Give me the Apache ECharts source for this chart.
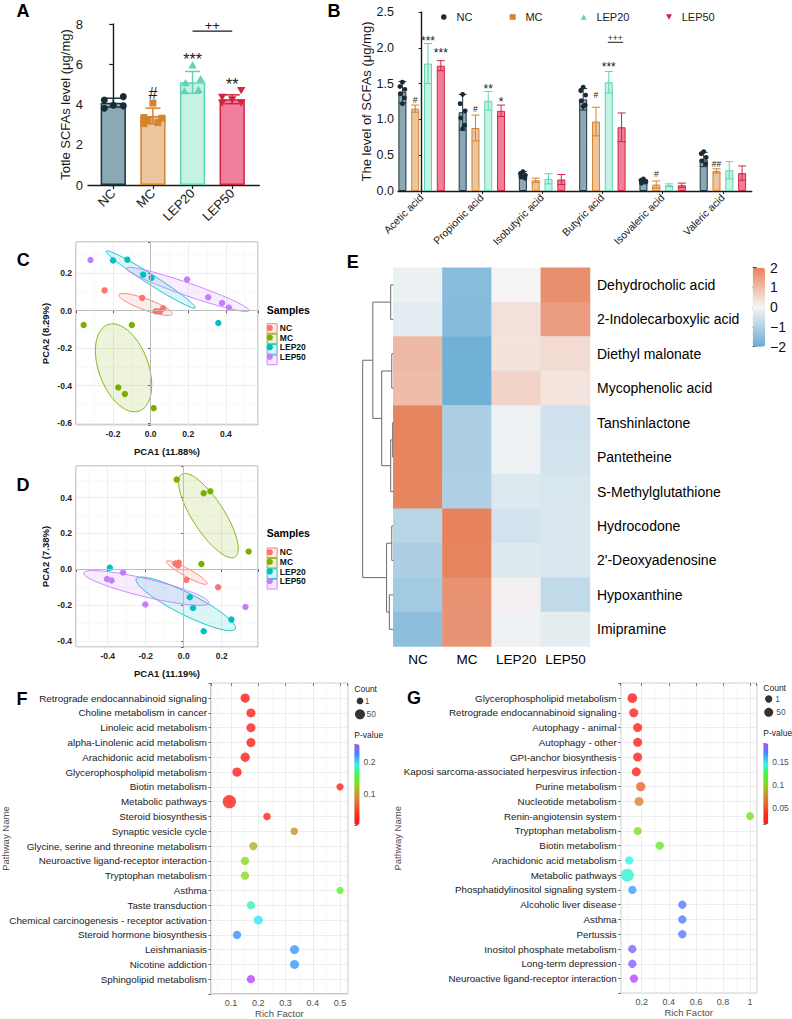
<!DOCTYPE html>
<html>
<head>
<meta charset="utf-8">
<title>SCFAs and metabolomics figure</title>
<script src="https://cdn.jsdelivr.net/npm/echarts@6.0.0/dist/echarts.min.js"></script>
<style>
html,body{margin:0;padding:0;background:#ffffff;}
#chart{width:792px;height:1019px;}
</style>
</head>
<body>
<div id="chart"></div>
<script>
// ================= DATA =================
const GROUPS = ['NC', 'MC', 'LEP20', 'LEP50'];

// ---- Panel A : total SCFAs (μg/mg)
const A_MEAN = [4.09, 3.43, 5.10, 4.26];
const A_SD = [0.22, 0.39, 0.54, 0.22];
const A_PTS_NC = [4.22, 4.39, 3.81, 3.96, 3.93];
const A_PTS_MC = [4.07, 3.35, 3.32, 3.25, 3.10, 3.05];
const A_PTS_LEP20 = [5.93, 5.25, 5.05, 4.70, 4.65];
const A_PTS_LEP50 = [4.72, 4.39, 4.27, 4.10, 4.10];
const A_SIG = ['', '#', '***', '**'];
const A_BRACKET = [2, 3, '++'];

// ---- Panel B : individual SCFAs (μg/mg)
const B_ACIDS = ['Acetic acid', 'Propionic acid', 'Isobutyric acid', 'Butyric acid', 'Isovaleric acid', 'Valeric acid'];
const B_MEAN_NC = [1.38, 1.10, 0.22, 1.28, 0.13, 0.44];
const B_MEAN_MC = [1.15, 0.88, 0.15, 0.97, 0.09, 0.28];
const B_MEAN_LEP20 = [1.78, 1.26, 0.17, 1.52, 0.08, 0.29];
const B_MEAN_LEP50 = [1.75, 1.12, 0.16, 0.89, 0.08, 0.25];
const B_SD_NC = [0.15, 0.25, 0.05, 0.15, 0.03, 0.10];
const B_SD_MC = [0.05, 0.18, 0.03, 0.20, 0.05, 0.03];
const B_SD_LEP20 = [0.28, 0.13, 0.07, 0.15, 0.02, 0.12];
const B_SD_LEP50 = [0.07, 0.08, 0.07, 0.20, 0.03, 0.10];
const B_PTS_NC = [[1.52, 1.46, 1.42, 1.36, 1.30, 1.22], [1.35, 1.22, 1.12, 1.02, 0.92, 0.87], [0.27, 0.24, 0.22, 0.20, 0.18], [1.45, 1.40, 1.34, 1.26, 1.20, 1.18], [0.17, 0.15, 0.13, 0.11], [0.55, 0.52, 0.47, 0.42, 0.38]];
const B_PTS_MC = [[1.18, 1.16, 1.14, 1.10, 1.08], [1.05, 0.95, 0.83, 0.70, 0.55], [0.18, 0.16, 0.14, 0.12], [1.25, 1.05, 1.00, 0.80, 0.72], [0.15, 0.10, 0.07, 0.05], [0.29, 0.28, 0.26, 0.25]];
const B_PTS_LEP20 = [[2.05, 1.92, 1.78, 1.62, 1.52], [1.38, 1.33, 1.26, 1.18, 1.14], [0.26, 0.20, 0.16, 0.12, 0.10], [1.68, 1.62, 1.52, 1.42, 1.28], [0.10, 0.09, 0.07], [0.47, 0.35, 0.30, 0.25, 0.20]];
const B_PTS_LEP50 = [[1.88, 1.78, 1.75, 1.72, 1.69], [1.20, 1.15, 1.12, 1.08, 1.05], [0.25, 0.20, 0.15, 0.13], [1.17, 0.98, 0.88, 0.78, 0.70], [0.11, 0.09, 0.07], [0.36, 0.30, 0.27, 0.24, 0.22]];
const B_SIG_NC = ['', '', '', '', '', ''];
const B_SIG_MC = ['#', '#', '', '#', '#', '##'];
const B_SIG_LEP20 = ['***', '**', '', '***', '', ''];
const B_SIG_LEP50 = ['***', '*', '', '', '', ''];
const B_BRACKET = [3, '+++'];

// ---- Panel C : PCA scores [PCA1, PCA2]
const C_NC = [[-0.245, 0.108], [-0.045, 0.068], [0.027, -0.003], [0.050, -0.003], [0.066, 0.013]];
const C_MC = [[-0.356, -0.077], [-0.100, -0.077], [-0.172, -0.410], [-0.137, -0.445], [0.016, -0.520]];
const C_LEP20 = [[-0.200, 0.267], [-0.124, 0.272], [-0.040, 0.192], [0.005, 0.175], [0.360, -0.066]];
const C_LEP50 = [[-0.320, 0.270], [0.194, 0.166], [0.306, 0.071], [0.380, 0.041], [0.416, 0.016]];
// confidence ellipses [centre x, centre y, semi-major, semi-minor, angle deg]
const C_ELL_NC = [-0.027, 0.033, 0.151, 0.030, -19.9];
const C_ELL_MC = [-0.144, -0.305, 0.245, 0.132, -70];
const C_ELL_LEP20 = [0.001, 0.166, 0.281, 0.026, -32.6];
const C_ELL_LEP50 = [0.197, 0.113, 0.346, 0.034, -19.1];

// ---- Panel D : PCA scores
const D_NC = [[-0.044, 0.032], [-0.030, 0.021], [-0.026, 0.036], [0.014, -0.059], [0.181, -0.100]];
const D_MC = [[-0.037, 0.501], [0.105, 0.425], [0.140, 0.436], [0.342, 0.100], [0.093, 0.030]];
const D_LEP20 = [[-0.389, 0.009], [0.032, -0.156], [0.049, -0.216], [0.251, -0.281], [0.105, -0.346]];
const D_LEP50 = [[-0.319, -0.018], [-0.404, -0.054], [-0.380, -0.063], [-0.202, -0.197], [0.325, -0.210]];
const D_ELL_NC = [0.016, -0.018, 0.124, 0.022, -30.7];
const D_ELL_MC = [0.130, 0.300, 0.270, 0.085, -59];
const D_ELL_LEP20 = [0.011, -0.193, 0.296, 0.060, -28.3];
const D_ELL_LEP50 = [-0.197, -0.104, 0.340, 0.050, -14.3];

// ---- Panel E : heatmap (z-scores), rows x [NC, MC, LEP20, LEP50]
const E_COLS = ['NC', 'MC', 'LEP20', 'LEP50'];
const E_ROWS = ['Dehydrocholic acid', '2-Indolecarboxylic acid', 'Diethyl malonate', 'Mycophenolic acid', 'Tanshinlactone', 'Pantetheine', 'S-Methylglutathione', 'Hydrocodone', "2'-Deoxyadenosine", 'Hypoxanthine', 'Imipramine'];
const E_Z = [
  [-0.15, -1.58, 0.00, 1.78],
  [-0.25, -1.60, 0.35, 1.56],
  [1.07, -1.90, 0.32, 0.45],
  [1.00, -1.90, 0.60, 0.30],
  [1.95, -1.05, -0.10, -0.55],
  [1.95, -1.05, -0.12, -0.50],
  [1.95, -1.00, -0.35, -0.42],
  [-0.89, 2.00, -0.50, -0.38],
  [-1.05, 1.98, -0.33, -0.38],
  [-1.20, 1.74, 0.08, -0.75],
  [-1.50, 1.70, -0.08, -0.22]
];
// row clustering: [node a, node b, height]; leaves 0..10, merged nodes 11+
const E_LINKAGE = [[4, 5, 0.02], [2, 3, 0.05], [7, 8, 0.05], [0, 1, 0.085], [11, 6, 0.085], [9, 10, 0.13], [13, 16, 0.22], [12, 15, 0.38], [14, 18, 0.67], [19, 17, 1.0]];

// ---- Panel F : KEGG enrichment
const F_PATHWAYS = ['Retrograde endocannabinoid signaling', 'Choline metabolism in cancer', 'Linoleic acid metabolism', 'alpha-Linolenic acid metabolism', 'Arachidonic acid metabolism', 'Glycerophospholipid metabolism', 'Biotin metabolism', 'Metabolic pathways', 'Steroid biosynthesis', 'Synaptic vesicle cycle', 'Glycine, serine and threonine metabolism', 'Neuroactive ligand-receptor interaction', 'Tryptophan metabolism', 'Asthma', 'Taste transduction', 'Chemical carcinogenesis - receptor activation', 'Steroid hormone biosynthesis', 'Leishmaniasis', 'Nicotine addiction', 'Sphingolipid metabolism'];
const F_RICH = [0.152, 0.173, 0.173, 0.173, 0.152, 0.122, 0.500, 0.094, 0.232, 0.332, 0.182, 0.151, 0.151, 0.500, 0.173, 0.200, 0.122, 0.333, 0.333, 0.173];
const F_COUNT = [38, 33, 33, 33, 38, 38, 8, 118, 12, 12, 22, 22, 22, 8, 22, 33, 22, 33, 33, 22];
const F_P = [0.010, 0.012, 0.014, 0.014, 0.015, 0.016, 0.020, 0.018, 0.025, 0.092, 0.110, 0.130, 0.130, 0.150, 0.179, 0.194, 0.221, 0.218, 0.218, 0.253];
const F_SIZE_KEYS = [1, 50];

// ---- Panel G : KEGG enrichment
const G_PATHWAYS = ['Glycerophospholipid metabolism', 'Retrograde endocannabinoid signaling', 'Autophagy - animal', 'Autophagy - other', 'GPI-anchor biosynthesis', 'Kaposi sarcoma-associated herpesvirus infection', 'Purine metabolism', 'Nucleotide metabolism', 'Renin-angiotensin system', 'Tryptophan metabolism', 'Biotin metabolism', 'Arachidonic acid metabolism', 'Metabolic pathways', 'Phosphatidylinositol signaling system', 'Alcoholic liver disease', 'Asthma', 'Pertussis', 'Inositol phosphate metabolism', 'Long-term depression', 'Neuroactive ligand-receptor interaction'];
const G_RICH = [0.131, 0.141, 0.170, 0.170, 0.170, 0.160, 0.193, 0.180, 1.000, 0.170, 0.333, 0.108, 0.094, 0.131, 0.500, 0.500, 0.500, 0.131, 0.131, 0.143];
const G_COUNT = [73, 50, 50, 50, 50, 50, 60, 50, 20, 20, 29, 29, 206, 29, 29, 29, 29, 29, 29, 29];
const G_P = [0.018, 0.020, 0.022, 0.022, 0.022, 0.024, 0.058, 0.072, 0.106, 0.108, 0.113, 0.146, 0.144, 0.165, 0.174, 0.174, 0.174, 0.183, 0.183, 0.192];
const G_SIZE_KEYS = [1, 50];

// ================= STYLE =================
const FONT = '"Liberation Sans", Arial, Helvetica, sans-serif';
const INK = '#1a1a1a';
const FILL = ['#8aa9b5', '#eac59d', '#c4f2e3', '#f17f9b'];
const EDGE = ['#1f3541', '#d4832f', '#5fd4b4', '#d0253f'];
const DOT = ['#1b2b36', '#d4832f', '#5fd4b4', '#d0253f'];
const SHAPES = ['circle', 'square', 'triangle', 'invtriangle'];
const PCA_COL = ['#F8766D', '#7CAE00', '#00BFC4', '#C77CFF'];
const HEAT_COL = ['#6aadd5', '#f5f5f5', '#e6835d'];
const P_COL = ['#ff1a1a', '#ff2a1a', '#e8642c', '#c89a2a', '#88d81a', '#3cff40', '#33f0f0', '#3a8cff', '#bb44ff'];
const A_JITTER = [[-9, 10, -9, 0, 10], [0, -9, 9, -5, 5, -9], [0, 8, -7, 6, -8], [9, -10, 0, -10, 9]];
const B_JITTER = [0, -2.5, 2.5, -2, 2, 0];
const B_BAR_W = 8, B_GAP_RATIO = 0.6;
const sizeF = c => Math.sqrt(43.8 + 1.125 * c);
const sizeG = c => Math.sqrt(52.7 + 0.565 * c);

function rgba(hex, a) {
  const n = parseInt(hex.slice(1), 16);
  return 'rgba(' + ((n >> 16) & 255) + ',' + ((n >> 8) & 255) + ',' + (n & 255) + ',' + a + ')';
}
function marker(shape, cx, cy, s, color) {
  const h = s / 2;
  if (shape === 'circle') return {type: 'circle', shape: {cx: cx, cy: cy, r: h}, style: {fill: color}};
  if (shape === 'square') return {type: 'rect', shape: {x: cx - h, y: cy - h, width: s, height: s}, style: {fill: color}};
  if (shape === 'triangle') return {type: 'polygon', shape: {points: [[cx, cy - s * 0.62], [cx + s * 0.6, cy + s * 0.42], [cx - s * 0.6, cy + s * 0.42]]}, style: {fill: color}};
  return {type: 'polygon', shape: {points: [[cx, cy + s * 0.62], [cx + s * 0.6, cy - s * 0.42], [cx - s * 0.6, cy - s * 0.42]]}, style: {fill: color}};
}
function sigText(text, x, yVisual, fs) {
  const star = text.indexOf('*') >= 0;
  return {type: 'text', x: x, y: yVisual + (star ? fs * 0.24 : 0),
    style: {text: text, align: 'center', verticalAlign: 'middle', fill: INK, fontSize: fs, fontFamily: FONT}};
}
function markTop(api, i, mean, sd, pts, size) {
  let top = api.coord([i, mean + sd])[1];
  pts.forEach(p => { top = Math.min(top, api.coord([i, p])[1] - size / 2); });
  return top;
}
// error bar + jittered points + significance label for one bar
function groupRenderer(cfg) {
  return function (params, api) {
    const i = api.value(0);
    const g = cfg.group === null ? i : cfg.group;
    const m = cfg.mean[i], s = cfg.sd[i], pts = cfg.pts[i];
    const x = api.coord([i, m])[0] + cfg.dodge;
    const yt = api.coord([i, m + s])[1], yb = api.coord([i, m - s])[1];
    const ls = {stroke: EDGE[g], lineWidth: cfg.lw};
    const ch = [
      {type: 'line', shape: {x1: x, y1: yt, x2: x, y2: yb}, style: ls},
      {type: 'line', shape: {x1: x - cfg.cap, y1: yt, x2: x + cfg.cap, y2: yt}, style: ls},
      {type: 'line', shape: {x1: x - cfg.cap, y1: yb, x2: x + cfg.cap, y2: yb}, style: ls}
    ];
    const jit = cfg.jitter[g] || cfg.jitter;
    pts.forEach((p, k) => {
      ch.push(marker(SHAPES[g], x + jit[k % jit.length], api.coord([i, p])[1], cfg.size, DOT[g]));
    });
    if (cfg.sig[i]) ch.push(sigText(cfg.sig[i], x, markTop(api, i, m, s, pts, cfg.size) - cfg.sigGap, cfg.sigFs));
    return {type: 'group', children: ch};
  };
}
function ellipseRenderer(params, api) {
  const cx = api.value(0), cy = api.value(1), a = api.value(2), b = api.value(3);
  const ang = api.value(4) * Math.PI / 180, gi = api.value(5);
  const pts = [];
  for (let k = 0; k < 120; k++) {
    const t = k / 120 * 2 * Math.PI;
    const ex = a * Math.cos(t), ey = b * Math.sin(t);
    pts.push(api.coord([cx + ex * Math.cos(ang) - ey * Math.sin(ang), cy + ex * Math.sin(ang) + ey * Math.cos(ang)]));
  }
  return {type: 'polygon', shape: {points: pts}, style: {fill: rgba(PCA_COL[gi], 0.14), stroke: PCA_COL[gi], lineWidth: 0.9}};
}
function multipleOf(v, step) { return Math.abs(v / step - Math.round(v / step)) < 1e-6; }

// ---- dendrogram geometry from linkage
const dendroNodes = E_ROWS.map((r, i) => ({y: i + 0.5, h: 0}));
const dendroData = E_LINKAGE.map(l => {
  const a = dendroNodes[l[0]], b = dendroNodes[l[1]];
  dendroNodes.push({y: (a.y + b.y) / 2, h: l[2]});
  return [a.y, b.y, a.h, b.h, l[2]];
});

// ================= AXES =================
const noAxis = gi => ({gridIndex: gi, type: 'value', show: false});
const pcaX = (gi, min, max, name) => ({
  gridIndex: gi, type: 'value', min: min, max: max, splitNumber: 5,
  axisLine: {show: false}, axisTick: {show: true, length: 2.5, lineStyle: {color: '#333', width: 0.8}},
  axisLabel: {fontSize: 8.5, fontWeight: 'bold', color: '#222', fontFamily: FONT, margin: 4,
    formatter: v => multipleOf(v, 0.2) ? v.toFixed(1) : ''},
  splitLine: {show: true, lineStyle: {color: '#ebebeb', width: 0.9}},
  minorTick: {show: false, splitNumber: 2}, minorSplitLine: {show: true, lineStyle: {color: '#f5f5f5', width: 0.6}},
  name: name, nameLocation: 'middle', nameGap: 21, nameTextStyle: {fontSize: 9.5, fontWeight: 'bold', color: '#111', fontFamily: FONT}
});
const pcaY = (gi, min, max, name) => Object.assign(pcaX(gi, min, max, name), {nameGap: 26});
const enrichY = (gi, names) => ({
  gridIndex: gi, type: 'value', min: 0, max: 21, interval: 1, inverse: true,
  axisLine: {show: false}, axisTick: {show: true, length: 2.5, lineStyle: {color: '#444', width: 0.8}},
  axisLabel: {fontSize: 9.8, color: INK, fontFamily: FONT, margin: 4, formatter: v => names[v - 1] || ''},
  splitLine: {show: true, lineStyle: {color: '#ebebeb', width: 0.9}}
});
const enrichX = (gi, min, max, step) => ({
  gridIndex: gi, type: 'value', min: min, max: max, splitNumber: 5,
  axisLine: {show: false}, axisTick: {show: true, length: 2.5, lineStyle: {color: '#444', width: 0.8}},
  axisLabel: {fontSize: 9, color: '#4d4d4d', fontFamily: FONT, margin: 4,
    formatter: v => multipleOf(v, step) ? String(Math.round(v * 100) / 100) : ''},
  splitLine: {show: true, lineStyle: {color: '#ebebeb', width: 0.9}},
  minorTick: {show: false, splitNumber: 2}, minorSplitLine: {show: true, lineStyle: {color: '#f5f5f5', width: 0.6}},
  name: 'Rich Factor', nameLocation: 'middle', nameGap: 14, nameTextStyle: {fontSize: 9.5, color: '#4d4d4d', fontFamily: FONT}
});
const barAxisLine = {show: true, lineStyle: {color: INK, width: 1.4}};

const xAxes = [
  {gridIndex: 0, type: 'value', min: -0.638, max: 3.684, axisLine: barAxisLine,
    axisTick: {show: true, customValues: [0, 1, 2, 3], length: 4, lineStyle: {color: INK, width: 1.2}},
    axisLabel: {customValues: [0, 1, 2, 3], formatter: v => GROUPS[v], rotate: 45, fontSize: 13, color: INK, fontFamily: FONT, margin: 6},
    splitLine: {show: false}},
  {gridIndex: 1, type: 'value', min: -0.3916, max: 5.478, axisLine: barAxisLine,
    axisTick: {show: true, customValues: [0, 1, 2, 3, 4, 5], length: 3, lineStyle: {color: INK, width: 1}},
    axisLabel: {customValues: [0, 1, 2, 3, 4, 5], formatter: v => B_ACIDS[v], rotate: 45, fontSize: 10.5, color: INK, fontFamily: FONT, margin: 5},
    splitLine: {show: false}},
  pcaX(2, -0.397, 0.571, 'PCA1 (11.88%)'),
  pcaX(3, -0.567, 0.391, 'PCA1 (11.19%)'),
  {gridIndex: 4, type: 'category', data: E_COLS, axisLine: {show: false}, axisTick: {show: false},
    axisLabel: {interval: 0, fontSize: 13.5, color: '#000', fontFamily: FONT, margin: 6}},
  {gridIndex: 5, type: 'value', min: 0, max: 1, inverse: true, show: false},
  noAxis(6),
  enrichX(7, 0.0266, 0.528, 0.1),
  enrichX(8, 0.045, 1.049, 0.2),
  noAxis(9), noAxis(10),
  {gridIndex: 11, type: 'value', min: -1, max: 1, show: false},
  {gridIndex: 12, type: 'value', min: -1, max: 1, show: false}
];
const yAxes = [
  {gridIndex: 0, type: 'value', min: 0, max: 8, interval: 2, axisLine: barAxisLine,
    axisTick: {show: true, length: 4, lineStyle: {color: INK, width: 1.2}},
    axisLabel: {fontSize: 13, color: INK, fontFamily: FONT, margin: 5}, splitLine: {show: false},
    name: 'Totle SCFAs level (μg/mg)', nameLocation: 'middle', nameGap: 14, nameTextStyle: {fontSize: 13, color: INK, fontFamily: FONT}},
  {gridIndex: 1, type: 'value', min: 0, max: 2.5, interval: 0.5, axisLine: barAxisLine,
    axisTick: {show: true, length: 3, lineStyle: {color: INK, width: 1}},
    axisLabel: {fontSize: 12.5, color: INK, fontFamily: FONT, margin: 4, formatter: v => v.toFixed(1)}, splitLine: {show: false},
    name: 'The level of SCFAs (μg/mg)', nameLocation: 'middle', nameGap: 23, nameTextStyle: {fontSize: 13, color: INK, fontFamily: FONT}},
  pcaY(2, -0.61, 0.366, 'PCA2 (8.29%)'),
  pcaY(3, -0.434, 0.577, 'PCA2 (7.38%)'),
  {gridIndex: 4, type: 'category', data: E_ROWS, inverse: true, position: 'right', axisLine: {show: false}, axisTick: {show: false},
    axisLabel: {interval: 0, fontSize: 14, color: '#000', fontFamily: FONT, margin: 7}},
  {gridIndex: 5, type: 'value', min: 0, max: 11, inverse: true, show: false},
  {gridIndex: 6, type: 'value', min: -2, max: 2, interval: 1, position: 'right', axisLine: {show: false},
    axisTick: {show: true, length: 4, lineStyle: {color: '#333', width: 1}},
    axisLabel: {fontSize: 14, color: '#111', fontFamily: FONT, margin: 5, formatter: v => (v < 0 ? '\u2212' + Math.abs(v) : String(v))},
    splitLine: {show: false}},
  enrichY(7, F_PATHWAYS),
  enrichY(8, G_PATHWAYS),
  {gridIndex: 9, type: 'value', min: 0.006, max: 0.253, splitNumber: 2, position: 'right', axisLine: {show: false},
    axisTick: {show: true, length: 3, lineStyle: {color: '#4d4d4d', width: 0.8}},
    axisLabel: {fontSize: 8.5, color: '#4d4d4d', fontFamily: FONT, margin: 4, formatter: v => multipleOf(v, 0.1) ? String(Math.round(v * 100) / 100) : ''},
    splitLine: {show: false}},
  {gridIndex: 10, type: 'value', min: 0.0134, max: 0.192, splitNumber: 4, position: 'right', axisLine: {show: false},
    axisTick: {show: true, length: 3, lineStyle: {color: '#4d4d4d', width: 0.8}},
    axisLabel: {fontSize: 8.5, color: '#4d4d4d', fontFamily: FONT, margin: 4, formatter: v => multipleOf(v, 0.05) ? String(Math.round(v * 100) / 100) : ''},
    splitLine: {show: false}},
  {gridIndex: 11, type: 'value', min: -0.5, max: 1.5, inverse: true, show: false},
  {gridIndex: 12, type: 'value', min: -0.5, max: 1.5, inverse: true, show: false}
];

const gridBase = {containLabel: false, outerBoundsMode: 'none'};
const grids = [
  {left: 88, top: 24, width: 171.3, height: 161},
  {left: 398, top: 12, width: 353.7, height: 179},
  {left: 76, top: 242, width: 182, height: 183, show: true, borderColor: '#9e9e9e', borderWidth: 1, backgroundColor: '#fff'},
  {left: 76, top: 466, width: 182, height: 181, show: true, borderColor: '#9e9e9e', borderWidth: 1, backgroundColor: '#fff'},
  {left: 393.3, top: 267.7, width: 196.7, height: 378.8},
  {left: 362.7, top: 267.7, width: 30.6, height: 378.8},
  {left: 752.7, top: 267.7, width: 12.3, height: 79},
  {left: 211, top: 683.3, width: 136.7, height: 310.7, show: true, borderColor: '#8a8a8a', borderWidth: 1, backgroundColor: '#fff'},
  {left: 620.7, top: 683.3, width: 136, height: 310, show: true, borderColor: '#8a8a8a', borderWidth: 1, backgroundColor: '#fff'},
  {left: 354.3, top: 744.3, width: 5.3, height: 80.7},
  {left: 763.3, top: 743.3, width: 5, height: 81},
  {left: 355, top: 694.3, width: 10, height: 26.7},
  {left: 763.7, top: 692.3, width: 10, height: 26.7}
].map(g => Object.assign({}, gridBase, g));

// ================= SERIES =================
const series = [];
// A bars
series.push({type: 'bar', xAxisIndex: 0, yAxisIndex: 0, barWidth: 25.3, silent: true, z: 2,
  data: A_MEAN.map((m, i) => ({value: [i, m], itemStyle: {color: FILL[i], borderColor: EDGE[i], borderWidth: 1.5}}))});
const A_PTS = [A_PTS_NC, A_PTS_MC, A_PTS_LEP20, A_PTS_LEP50];
const aCfg = {group: null, mean: A_MEAN, sd: A_SD, pts: A_PTS, sig: A_SIG, dodge: 0, jitter: A_JITTER, size: 7, cap: 7.5, lw: 1.5, sigFs: 16, sigGap: 6};
series.push({type: 'custom', xAxisIndex: 0, yAxisIndex: 0, silent: true, z: 4, renderItem: groupRenderer(aCfg),
  data: A_MEAN.map((m, i) => [i, m])});
series.push({type: 'custom', xAxisIndex: 0, yAxisIndex: 0, silent: true, z: 4, data: [[A_BRACKET[0], A_BRACKET[1]]],
  renderItem: (params, api) => {
    const f = api.value(0), t = api.value(1);
    const x1 = api.coord([f, 0])[0], x2 = api.coord([t, 0])[0];
    const y = markTop(api, f, A_MEAN[f], A_SD[f], A_PTS[f], 7) - 6 - 25;
    return {type: 'group', children: [
      {type: 'line', shape: {x1: x1, y1: y, x2: x2, y2: y}, style: {stroke: INK, lineWidth: 1.3}},
      sigText(A_BRACKET[2], (x1 + x2) / 2, y - 6, 13)
    ]};
  }});

// B bars + error/points
const B_MEANS = [B_MEAN_NC, B_MEAN_MC, B_MEAN_LEP20, B_MEAN_LEP50];
const B_SDS = [B_SD_NC, B_SD_MC, B_SD_LEP20, B_SD_LEP50];
const B_PTS = [B_PTS_NC, B_PTS_MC, B_PTS_LEP20, B_PTS_LEP50];
const B_SIGS = [B_SIG_NC, B_SIG_MC, B_SIG_LEP20, B_SIG_LEP50];
const bDodge = k => (k - 1.5) * B_BAR_W * (1 + B_GAP_RATIO);
GROUPS.forEach((g, k) => {
  series.push({type: 'bar', name: g, xAxisIndex: 1, yAxisIndex: 1, barWidth: B_BAR_W, barGap: (B_GAP_RATIO * 100) + '%', silent: true, z: 2,
    itemStyle: {color: FILL[k], borderColor: EDGE[k], borderWidth: 1},
    data: B_MEANS[k].map((m, i) => [i, m])});
});
GROUPS.forEach((g, k) => {
  series.push({type: 'custom', xAxisIndex: 1, yAxisIndex: 1, silent: true, z: 4,
    renderItem: groupRenderer({group: k, mean: B_MEANS[k], sd: B_SDS[k], pts: B_PTS[k], sig: B_SIGS[k], dodge: bDodge(k), jitter: B_JITTER, size: 4.8, cap: 4, lw: 1, sigFs: k === 1 ? 8.5 : 12, sigGap: 4}),
    data: B_MEANS[k].map((m, i) => [i, m])});
});
series.push({type: 'custom', xAxisIndex: 1, yAxisIndex: 1, silent: true, z: 4, data: [[B_BRACKET[0], B_MEAN_LEP20[B_BRACKET[0]]]],
  renderItem: (params, api) => {
    const i = api.value(0);
    const xc = api.coord([i, 0])[0];
    const x1 = xc + bDodge(2), x2 = xc + bDodge(3);
    const y = markTop(api, i, B_MEAN_LEP20[i], B_SD_LEP20[i], B_PTS_LEP20[i], 4.8) - 4 - 22;
    return {type: 'group', children: [
      {type: 'line', shape: {x1: x1 - 1, y1: y, x2: x2 + 1.5, y2: y}, style: {stroke: INK, lineWidth: 1}},
      sigText(B_BRACKET[1], (x1 + x2) / 2, y - 4.5, 8.5)
    ]};
  }});

// C & D PCA panels
function pcaSeries(gi, sets, ells) {
  series.push({type: 'custom', xAxisIndex: gi, yAxisIndex: gi, silent: true, z: 2, renderItem: ellipseRenderer,
    data: ells.map((e, k) => e.concat([k])),
    markLine: {silent: true, symbol: 'none', label: {show: false}, animation: false,
      lineStyle: {color: '#bdbdbd', width: 1, type: 'solid'}, data: [{xAxis: 0}, {yAxis: 0}]}});
  sets.forEach((pts, k) => {
    series.push({type: 'scatter', name: GROUPS[k], xAxisIndex: gi, yAxisIndex: gi, silent: true, z: 3,
      symbolSize: 6.4, itemStyle: {color: PCA_COL[k], opacity: 1}, data: pts});
  });
}
pcaSeries(2, [C_NC, C_MC, C_LEP20, C_LEP50], [C_ELL_NC, C_ELL_MC, C_ELL_LEP20, C_ELL_LEP50]);
pcaSeries(3, [D_NC, D_MC, D_LEP20, D_LEP50], [D_ELL_NC, D_ELL_MC, D_ELL_LEP20, D_ELL_LEP50]);

// E heatmap + dendrogram
const heatIndex = series.length;
const heatData = [];
E_Z.forEach((row, r) => row.forEach((v, c) => heatData.push([c, r, v])));
series.push({type: 'heatmap', xAxisIndex: 4, yAxisIndex: 4, silent: true, data: heatData, itemStyle: {borderWidth: 0}, emphasis: {disabled: true}});
series.push({type: 'custom', xAxisIndex: 5, yAxisIndex: 5, silent: true, data: dendroData,
  encode: {x: [2, 3, 4], y: [0, 1]},
  renderItem: (params, api) => {
    const ya = api.value(0), yb = api.value(1), ha = api.value(2), hb = api.value(3), h = api.value(4);
    return {type: 'polyline', shape: {points: [api.coord([ha, ya]), api.coord([h, ya]), api.coord([h, yb]), api.coord([hb, yb])]},
      style: {stroke: '#6b6b6b', lineWidth: 1, fill: null}};
  }});

// F & G enrichment bubbles
const fIndex = series.length;
series.push({type: 'scatter', xAxisIndex: 7, yAxisIndex: 7, silent: true, z: 3,
  symbolSize: v => sizeF(v[2]), data: F_PATHWAYS.map((n, i) => [F_RICH[i], i + 1, F_COUNT[i], F_P[i]])});
const gIndex = series.length;
series.push({type: 'scatter', xAxisIndex: 8, yAxisIndex: 8, silent: true, z: 3,
  symbolSize: v => sizeG(v[2]), data: G_PATHWAYS.map((n, i) => [G_RICH[i], i + 1, G_COUNT[i], G_P[i]])});
// size keys ("Count")
[[11, F_SIZE_KEYS, sizeF, 1.5], [12, G_SIZE_KEYS, sizeG, 3]].forEach(s => {
  series.push({type: 'scatter', xAxisIndex: s[0], yAxisIndex: s[0], silent: true,
    symbolSize: v => s[2](v[2]), itemStyle: {color: '#000'},
    label: {show: true, position: 'right', distance: s[3], formatter: p => String(p.value[2]), fontSize: 8.5, color: '#222', fontFamily: FONT},
    data: s[1].map((c, i) => [0, i, c])});
});

// ================= LEGENDS =================
const legends = [];
const bIcons = ['circle', 'rect', 'triangle', 'path://M0,0L10,0L5,9Z'];
const bLegendX = [444, 512.7, 583.7, 669];
GROUPS.forEach((g, k) => {
  legends.push({left: bLegendX[k] - 3, top: 11.5, padding: 0, itemWidth: 6, itemHeight: 5.6, selectedMode: false,
    textStyle: {fontSize: 11, color: INK, fontFamily: FONT, padding: [0, 0, 0, 4.7]},
    data: [{name: g, icon: bIcons[k], itemStyle: {color: DOT[k], borderWidth: 0}}]});
});
[323.2, 547.5].forEach(top => {
  legends.push({left: 266.7, top: top, orient: 'vertical', padding: 0, itemGap: 0, itemWidth: 10, itemHeight: 9.6, selectedMode: false,
    formatter: () => '', textStyle: {fontSize: 8, lineHeight: 9.6, fontFamily: FONT},
    data: GROUPS.map((g, k) => ({name: g, icon: 'rect', itemStyle: {color: rgba(PCA_COL[k], 0.16), borderColor: PCA_COL[k], borderWidth: 0.9}}))});
  legends.push({left: 266.7, top: top, orient: 'vertical', padding: 0, itemGap: 0, itemWidth: 10, itemHeight: 6.2, selectedMode: false,
    textStyle: {fontSize: 8.5, fontWeight: 'bold', lineHeight: 9.6, color: '#111', fontFamily: FONT},
    data: GROUPS.map((g, k) => ({name: g, icon: 'circle', itemStyle: {color: PCA_COL[k], borderWidth: 0}}))});
});

// ================= TEXT =================
const txt = (text, x, y, o) => Object.assign({type: 'text', x: x, y: y, silent: true,
  style: Object.assign({text: text, fill: '#000', fontFamily: FONT, fontSize: 18, fontWeight: 'bold', align: 'center', verticalAlign: 'middle'}, o || {})});
const graphics = [
  txt('A', 23, 10.5), txt('B', 334, 10.5), txt('C', 23.3, 260), txt('D', 23, 485),
  txt('E', 352.7, 261.7), txt('F', 22, 698.5), txt('G', 414, 698),
  txt('Samples', 266.7, 309.7, {fontSize: 10.5, align: 'left'}),
  txt('Samples', 266.7, 533.3, {fontSize: 10.5, align: 'left'}),
  txt('Count', 354.3, 689.3, {fontSize: 8.5, fontWeight: 'normal', align: 'left', fill: '#222'}),
  txt('P-value', 354.3, 735, {fontSize: 8.5, fontWeight: 'normal', align: 'left', fill: '#222'}),
  txt('Count', 763.3, 688.3, {fontSize: 8.5, fontWeight: 'normal', align: 'left', fill: '#222'}),
  txt('P-value', 763.3, 733.3, {fontSize: 8.5, fontWeight: 'normal', align: 'left', fill: '#222'})
];
[[5, 838.6], [397, 838.3]].forEach(p => {
  graphics.push({type: 'text', x: p[0], y: p[1], rotation: Math.PI / 2, silent: true,
    style: {text: 'Pathway Name', fill: '#4d4d4d', fontFamily: FONT, fontSize: 9.5, align: 'center', verticalAlign: 'middle'}});
});

// ================= CHART =================
const chart = echarts.init(document.getElementById('chart'), null, {renderer: 'svg', width: 792, height: 1019});
chart.setOption({
  animation: false,
  backgroundColor: '#ffffff',
  textStyle: {fontFamily: FONT},
  grid: grids,
  xAxis: xAxes,
  yAxis: yAxes,
  legend: legends,
  visualMap: [
    {type: 'continuous', seriesIndex: heatIndex, min: -2, max: 2, calculable: false, dimension: 2,
      left: 752.7, top: 267.7, itemWidth: 12.3, itemHeight: 79, padding: 0, text: null, showLabel: false,
      inRange: {color: HEAT_COL}, hoverLink: false},
    {type: 'continuous', seriesIndex: fIndex, min: 0.006, max: 0.253, calculable: false, dimension: 3,
      left: 354.3, top: 744.3, itemWidth: 5.3, itemHeight: 80.7, padding: 0, text: null,
      inRange: {color: P_COL}, hoverLink: false},
    {type: 'continuous', seriesIndex: gIndex, min: 0.0134, max: 0.192, calculable: false, dimension: 3,
      left: 763.3, top: 743.3, itemWidth: 5, itemHeight: 81, padding: 0, text: null,
      inRange: {color: P_COL}, hoverLink: false}
  ],
  graphic: graphics,
  series: series
});
</script>
</body>
</html>
